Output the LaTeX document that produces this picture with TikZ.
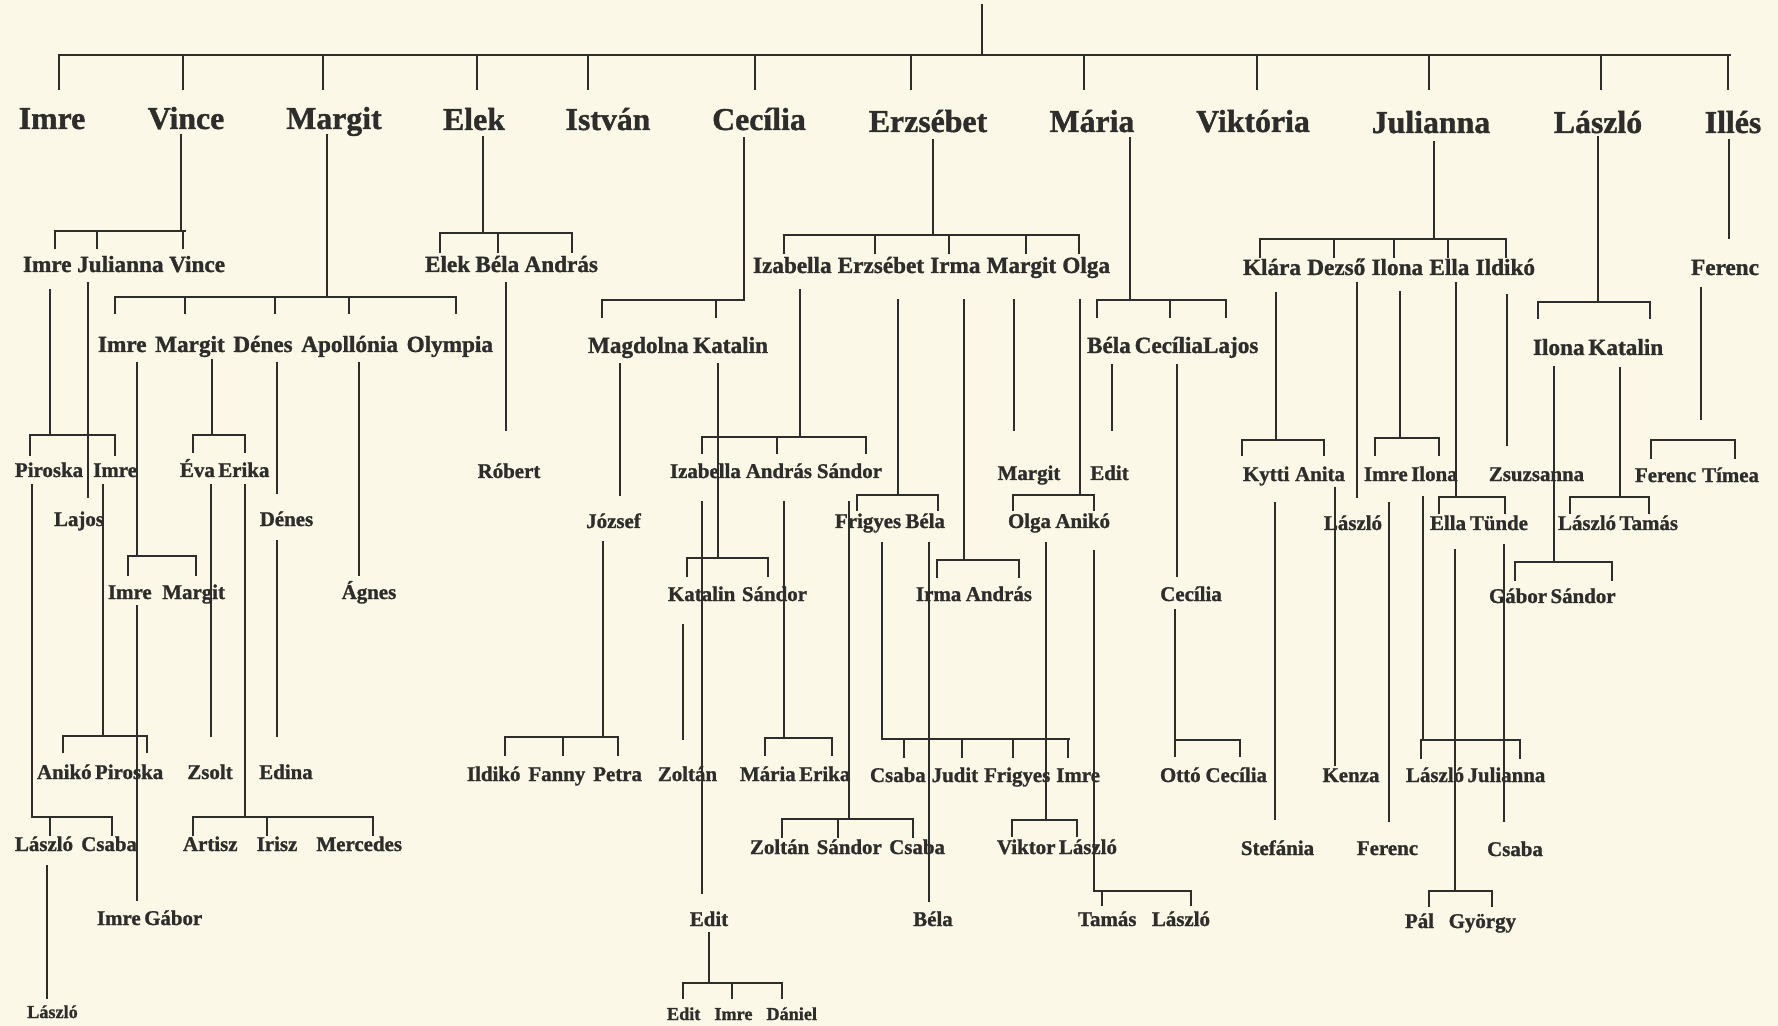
\documentclass[tikz,border=0pt]{standalone}
\usepackage{fontspec}
\setmainfont{Liberation Serif}[BoldFeatures={FakeBold=1.2}]
\definecolor{paper}{RGB}{252,248,231}
\definecolor{ink}{RGB}{45,45,43}
\newcommand{\sw}[2]{\makebox[#1pt][s]{#2}}
\newcommand{\brk}[5]{\draw[ln] (#1,#3) -- (#2,#3); \foreach \t in {#5} {\draw[ln] (\t,#3) -- (\t,#4);}}
\newcommand{\vln}[3]{\draw[ln] (#1,#2) -- (#1,#3);}
\tikzset{
  lbl/.style={inner sep=0pt, anchor=base, text=ink},
  big/.style={lbl, font=\fontsize{15.9}{18}\selectfont\bfseries},
  mid/.style={lbl, font=\fontsize{11.6}{13}\selectfont\bfseries},
  sml/.style={lbl, font=\fontsize{10.45}{12}\selectfont\bfseries},
  tny/.style={lbl, font=\fontsize{9.1}{11}\selectfont\bfseries},
  ln/.style={draw=ink, line width=1pt, line cap=rect}
}
\begin{document}
\begin{tikzpicture}[x=0.5pt,y=-0.5pt]
\fill[paper] (0,0) rectangle (1778,1026);
\useasboundingbox (0,0) rectangle (1778,1026);
% ---------- top level ----------
\coordinate (root) at (982,5);
\vln{982}{5}{55}
\brk{59}{1730}{55}{89}{59,183,323,477,588,755,911,1084,1257,1429,1601,1728}
\node[big] (t1) at (52,129) {Imre};
\node[big] (t2) at (186,129) {Vince};
\node[big] (t3) at (334,129) {Margit};
\node[big] (t4) at (474,130) {Elek};
\node[big] (t5) at (608,130) {István};
\node[big] (t6) at (759,130) {Cecília};
\node[big] (t7) at (928,132) {Erzsébet};
\node[big] (t8) at (1092,132) {Mária};
\node[big] (t9) at (1253,132) {Viktória};
\node[big] (t10) at (1431,133) {Julianna};
\node[big] (t11) at (1598,133) {László};
\node[big] (t12) at (1733,133) {Illés};
% ---------- level 2 / 3 ----------
\node[mid] (ijv) at (124,272) {\sw{101}{Imre Julianna Vince}};
\node[mid] (eba) at (511.5,272) {\sw{86.5}{Elek Béla András}};
\node[mid] (ieimo) at (931.5,273) {\sw{178.5}{Izabella Erzsébet Irma Margit Olga}};
\node[mid] (kdiei) at (1389,275) {\sw{146}{Klára Dezső Ilona Ella Ildikó}};
\node[mid] (fer1) at (1725,275) {Ferenc};
\node[mid] (imdao) at (295.5,352) {\sw{197.5}{Imre  Margit  Dénes Apollónia Olympia}};
\node[mid] (mk) at (678,353) {\sw{90}{Magdolna Katalin}};
\node[mid] (bcl) at (1172.5,353) {\sw{85.5}{Béla CecíliaLajos}};
\node[mid] (ik) at (1598,355) {\sw{65}{Ilona Katalin}};
% ---------- level 4 ----------
\node[sml] (pi) at (76,477) {\sw{61}{Piroska Imre}};
\node[sml] (ee) at (224,477) {\sw{44}{Éva Erika}};
\node[sml] (rob) at (509,478) {Róbert};
\node[sml] (ias) at (776,478) {\sw{106}{Izabella András Sándor}};
\node[sml] (mar4) at (1029,480) {Margit};
\node[sml] (edi4) at (1109.5,480) {Edit};
\node[sml] (ka) at (1294,481) {\sw{51}{Kytti Anita}};
\node[sml] (ii) at (1410,481) {\sw{46}{Imre Ilona}};
\node[sml] (zsu) at (1536.5,481) {Zsuzsanna};
\node[sml] (ft) at (1697,482) {\sw{62}{Ferenc Tímea}};
% ---------- level 5 ----------
\node[sml] (laj) at (79,526) {Lajos};
\node[sml] (den5) at (286.5,526) {Dénes};
\node[sml] (jos) at (613.5,528) {József};
\node[sml] (fb) at (890,528) {\sw{55}{Frigyes Béla}};
\node[sml] (oa) at (1059,528) {\sw{51}{Olga Anikó}};
\node[sml] (las5) at (1353,530) {László};
\node[sml] (et) at (1479,530) {\sw{49}{Ella Tünde}};
\node[sml] (lt) at (1618,530) {\sw{60}{László Tamás}};
% ---------- level 6 ----------
\node[sml] (im2) at (166.5,599) {\sw{58.5}{Imre  Margit}};
\node[sml] (agn) at (369,599) {Ágnes};
\node[sml] (ks) at (737.5,601) {\sw{69.5}{Katalin Sándor}};
\node[sml] (ia) at (974,601) {\sw{58}{Irma András}};
\node[sml] (cec6) at (1191,601) {Cecília};
\node[sml] (gs) at (1552,603) {\sw{63}{Gábor Sándor}};
% ---------- level 7 ----------
\node[sml] (ap) at (99.5,779) {\sw{62.5}{Anikó Piroska}};
\node[sml] (zso) at (210,779) {Zsolt};
\node[sml] (edn) at (286,779) {Edina};
\node[sml] (ifp) at (554.5,781) {\sw{87.5}{Ildikó  Fanny Petra}};
\node[sml] (zol7) at (687.5,781) {Zoltán};
\node[sml] (me) at (791.5,781) {\sw{51.5}{Mária Erika}};
\node[sml] (cjfi) at (985,782) {\sw{115}{Csaba Judit Frigyes Imre}};
\node[sml] (oc) at (1213.5,782) {\sw{53.5}{Ottó Cecília}};
\node[sml] (ken) at (1351,782) {Kenza};
\node[sml] (lj) at (1475.5,782) {\sw{69.5}{László Julianna}};
% ---------- level 8 ----------
\node[sml] (lc) at (76,851) {\sw{61}{László  Csaba}};
\node[sml] (aim) at (292.5,851) {\sw{109.5}{Artisz  Irisz  Mercedes}};
\node[sml] (zsc) at (847.5,854) {\sw{97.5}{Zoltán  Sándor Csaba}};
\node[sml] (vl) at (1056,854) {\sw{59}{Viktor László}};
\node[sml] (ste) at (1277.5,855) {Stefánia};
\node[sml] (fer8) at (1387.5,855) {Ferenc};
\node[sml] (csa8) at (1515,856) {Csaba};
% ---------- level 9 ----------
\node[sml] (ig) at (149.5,925) {\sw{52.5}{Imre Gábor}};
\node[sml] (edi9) at (709,926) {Edit};
\node[sml] (bel9) at (933,926) {Béla};
\node[sml] (tl) at (1144,926) {\sw{66}{Tamás  László}};
\node[sml] (pgy) at (1460.5,928) {\sw{55.5}{Pál  György}};
% ---------- level 10 ----------
\node[tny] (las10) at (52.5,1018) {László};
\node[tny] (eid) at (742,1020) {\sw{75}{Edit  Imre  Dániel}};
% ---------- connectors: top children ----------
\vln{181}{135}{231} \brk{55}{185}{231}{248}{55,97,183}
\vln{327}{135}{297} \brk{115}{456}{297}{313}{115,185,275,349,456}
\vln{483}{137}{233} \brk{440}{572}{233}{252}{440,498,572}
\vln{744}{138}{300} \brk{602}{744}{300}{317}{602,716}
\vln{933}{140}{235} \brk{784}{1079}{235}{253}{784,875,949,1026,1079}
\vln{1130}{138}{300} \brk{1097}{1226}{300}{317}{1097,1170,1226}
\vln{1434}{142}{239} \brk{1260}{1506}{239}{257}{1260,1334,1394,1448,1506}
\vln{1598}{137}{302} \brk{1538}{1650}{302}{318}{1538,1650}
\vln{1729}{140}{238}
% ---------- Vince branch ----------
\vln{50}{290}{435} \brk{30}{115}{435}{455}{30,115}
\vln{88}{283}{497}
\vln{32}{485}{817} \brk{32}{112}{817}{835}{50,112}
\vln{47}{866}{998}
\vln{103}{485}{736} \brk{63}{147}{736}{752}{63,147}
% ---------- Margit branch ----------
\vln{137}{363}{556} \brk{128}{196}{556}{575}{128,196}
\vln{137}{606}{900}
\vln{212}{360}{435} \brk{193}{245}{435}{452}{193,245}
\vln{211}{485}{736}
\vln{245}{485}{817} \brk{193}{373}{817}{835}{193,267,373}
\vln{277}{363}{493}
\vln{277}{541}{736}
\vln{359}{363}{575}
% ---------- Elek branch ----------
\vln{506}{283}{430}
% ---------- Cecília branch ----------
\vln{620}{364}{495}
\vln{603}{542}{737} \brk{505}{618}{737}{755}{505,563,618}
\vln{718}{364}{558} \brk{687}{768}{558}{576}{687,768}
\vln{683}{625}{739}
% ---------- Erzsébet branch ----------
\vln{800}{290}{437} \brk{702}{866}{437}{453}{702,777,866}
\vln{702}{502}{893}
\vln{709}{933}{983} \brk{683}{782}{983}{998}{683,732,782}
\vln{784}{502}{738} \brk{765}{832}{738}{755}{765,832}
\vln{849}{502}{819} \brk{782}{913}{819}{837}{782,838,913}
\vln{898}{300}{495} \brk{857}{938}{495}{510}{857,938}
\vln{882}{543}{739} \brk{882}{1069}{739}{757}{904,962,1013,1068}
\vln{929}{543}{901}
\vln{964}{300}{560} \brk{937}{1019}{560}{577}{937,1019}
\vln{1014}{300}{430}
\vln{1080}{300}{495} \brk{1013}{1094}{495}{510}{1013,1094}
\vln{1046}{543}{820} \brk{1012}{1077}{820}{836}{1012,1077}
\vln{1094}{551}{891} \brk{1094}{1191}{891}{905}{1102,1191}
% ---------- Mária branch ----------
\vln{1112}{365}{430}
\vln{1177}{365}{576}
\vln{1175}{610}{740} \brk{1175}{1240}{740}{756}{1175,1240}
% ---------- Julianna branch ----------
\vln{1276}{293}{440} \brk{1242}{1324}{440}{455}{1242,1324}
\vln{1275}{503}{819}
\vln{1335}{488}{765}
\vln{1357}{283}{497}
\vln{1400}{292}{438} \brk{1375}{1439}{438}{455}{1375,1439}
\vln{1389}{503}{821}
\vln{1423}{497}{740} \brk{1421}{1520}{740}{758}{1421,1520}
\vln{1456}{283}{497} \brk{1439}{1505}{497}{513}{1439,1505}
\vln{1455}{550}{891} \brk{1429}{1492}{891}{906}{1429,1492}
\vln{1504}{545}{821}
\vln{1507}{295}{445}
% ---------- László branch ----------
\vln{1554}{367}{562} \brk{1515}{1612}{562}{580}{1515,1612}
\vln{1620}{368}{497} \brk{1570}{1649}{497}{513}{1570,1649}
% ---------- Illés branch ----------
\vln{1701}{288}{419}
\brk{1651}{1735}{440}{458}{1651,1735}
\end{tikzpicture}
\end{document}
